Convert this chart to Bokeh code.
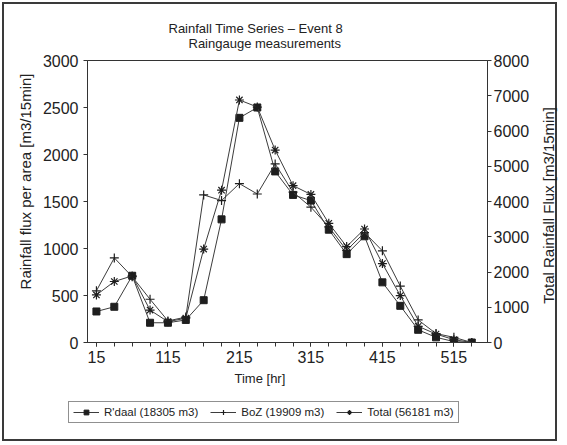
import math
from bokeh.plotting import figure
from bokeh.layouts import column, row
from bokeh.models import Range1d, LinearAxis, FixedTicker, Legend, LegendItem, Title, Label
from bokeh.embed import file_html
from bokeh.resources import INLINE

# ---- data ----
time_hr = [15, 40, 65, 90, 115, 140, 165, 190, 215, 240, 265, 290,
           315, 340, 365, 390, 415, 440, 465, 490, 515, 540]
rdaal = [330, 380, 710, 210, 210, 240, 450, 1310, 2390, 2500, 1820, 1570,
         1510, 1200, 940, 1130, 640, 390, 135, 55, 10, 0]
boz = [550, 900, 700, 460, 230, 270, 1570, 1510, 1690, 1580, 1900, 1600,
       1440, 1230, 980, 1170, 975, 600, 240, 95, 55, 0]
total = [1350, 1730, 1890, 920, 590, 690, 2650, 4320, 6880, 6680, 5460, 4450,
         4200, 3380, 2720, 3220, 2240, 1330, 460, 240, 80, 0]

x_major = [15, 115, 215, 315, 415, 515]
x_minor = [15, 40, 65, 90, 115, 140, 165, 190, 215, 240, 265, 290, 315, 340,
           365, 390, 415, 440, 465, 490, 515, 540]
left_ticks = [0, 500, 1000, 1500, 2000, 2500, 3000]
right_ticks = [0, 1000, 2000, 3000, 4000, 5000, 6000, 7000, 8000]

title1 = "Rainfall Time Series \u2013  Event 8"
title2 = "Raingauge measurements"
xlabel = "Time [hr]"
ylabel_left = "Rainfall flux per area [m3/15min]"
ylabel_right = "Total Rainfall Flux [m3/15min]"
names = ["R'daal (18305 m3)", "BoZ (19909 m3)", "Total (56181 m3)"]

FONT = "Liberation Sans"
TXT = "#222222"
LINE = "#3c3c3c"
MARK = "#1e1e1e"
PW, RW = 537, 22
W = PW + RW

# ---------------- main chart ----------------
p = figure(width=PW, height=400, output_backend="svg", toolbar_location=None,
           title=None, x_range=Range1d(2.5, 562), y_range=Range1d(0, 3000),
           min_border_left=87, min_border_right=50, min_border_top=60,
           min_border_bottom=58, x_axis_location=None, y_axis_location=None)
p.extra_y_ranges = {"total": Range1d(0, 8000)}
p.xgrid.visible = False
p.ygrid.visible = False
p.outline_line_color = "#333333"
p.outline_line_width = 1
p.background_fill_color = "white"
p.border_fill_color = None

def style_axis(ax):
    ax.axis_line_color = "#333333"
    ax.major_tick_line_color = "#333333"
    ax.minor_tick_line_color = "#333333"
    ax.major_tick_in = 0
    ax.major_tick_out = 4
    ax.minor_tick_in = 0
    ax.minor_tick_out = 4
    ax.major_label_text_font = FONT
    ax.major_label_text_font_size = "16px"
    ax.major_label_text_color = TXT

xaxis = LinearAxis(ticker=FixedTicker(ticks=x_major, minor_ticks=x_minor))
style_axis(xaxis)
xaxis.major_label_standoff = 4
p.add_layout(xaxis, "below")

yaxis = LinearAxis(ticker=FixedTicker(ticks=left_ticks))
style_axis(yaxis)
yaxis.minor_tick_out = 0
yaxis.major_label_standoff = 5
p.add_layout(yaxis, "left")

raxis = LinearAxis(y_range_name="total", ticker=FixedTicker(ticks=right_ticks))
style_axis(raxis)
raxis.minor_tick_out = 0
raxis.major_label_standoff = 2
p.add_layout(raxis, "right")

# titles (stacked above the frame: spacer, line 2, line 1)
top_gap = Title(text=" ", text_font_size="1px", standoff=5)
t2 = Title(text=title2, align="left", offset=101, text_font=FONT,
           text_font_size="13px", text_font_style="normal", text_color=TXT,
           standoff=0, vertical_align="top")
t1 = Title(text=title1, align="left", offset=81, text_font=FONT,
           text_font_size="13px", text_font_style="normal", text_color=TXT,
           standoff=0)
p.add_layout(top_gap, "above")
p.add_layout(t2, "above")
p.add_layout(t1, "above")

tx = Title(text=xlabel, align="left", offset=147, text_font=FONT,
           text_font_size="13px", text_font_style="normal", text_color=TXT, standoff=7)
p.add_layout(tx, "below")

ty = Title(text=ylabel_left, align="right", offset=13, text_font=FONT,
           text_font_size="15px", text_font_style="normal", text_color=TXT, standoff=11)
p.add_layout(ty, "left")

l1 = p.line(time_hr, rdaal, line_color=LINE, line_width=1)
s1 = p.scatter(time_hr, rdaal, marker="square", size=7, fill_color=MARK, line_color=MARK)
l2 = p.line(time_hr, boz, line_color=LINE, line_width=1)
s2 = p.scatter(time_hr, boz, marker="cross", size=9, line_color=MARK, line_width=1.2)
l3 = p.line(time_hr, total, line_color=LINE, line_width=1, y_range_name="total")
s3 = p.scatter(time_hr, total, marker="asterisk", size=9, line_color=MARK,
               line_width=1.2, y_range_name="total")

# ---------------- right-hand axis title strip (reads bottom to top) ----------------
r = figure(width=RW, height=400, output_backend="svg", toolbar_location=None,
           title=None, x_range=Range1d(0, 1), y_range=Range1d(0, 1),
           min_border=0, x_axis_location=None, y_axis_location=None)
r.xgrid.visible = False
r.ygrid.visible = False
r.outline_line_color = None
r.background_fill_color = None
r.border_fill_color = None
r.add_layout(Label(x=0.5, y=0.486, text=ylabel_right, angle=math.pi / 2,
                   text_align="center", text_baseline="middle", text_font=FONT,
                   text_font_size="15px", text_color=TXT))

# ---------------- legend strip (same series, out of view) ----------------
q = figure(width=W, height=43, output_backend="svg", toolbar_location=None,
           title=None, x_range=Range1d(-2, -1), y_range=Range1d(-2, -1),
           min_border=0, x_axis_location=None, y_axis_location=None)
q.xgrid.visible = False
q.ygrid.visible = False
q.outline_line_color = None
q.background_fill_color = None
q.border_fill_color = None
m1 = q.line(time_hr, rdaal, line_color=LINE, line_width=1)
n1 = q.scatter(time_hr, rdaal, marker="square", size=7, fill_color=MARK, line_color=MARK)
m2 = q.line(time_hr, boz, line_color=LINE, line_width=1)
n2 = q.scatter(time_hr, boz, marker="cross", size=9, line_color=MARK, line_width=1.2)
m3 = q.line(time_hr, total, line_color=LINE, line_width=1)
n3 = q.scatter(time_hr, total, marker="asterisk", size=9, line_color=MARK, line_width=1.2)

legend = Legend(items=[LegendItem(label=names[0], renderers=[m1, n1]),
                       LegendItem(label=names[1], renderers=[m2, n2]),
                       LegendItem(label=names[2], renderers=[m3, n3])],
                orientation="horizontal", location=(68, 20))
legend.label_text_font = FONT
legend.label_text_font_size = "11.5px"
legend.label_text_color = TXT
legend.border_line_color = "#222222"
legend.border_line_width = 1
legend.background_fill_color = "white"
legend.background_fill_alpha = 1
legend.glyph_width = 26
legend.glyph_height = 12
legend.label_standoff = 5
legend.spacing = 12
legend.padding = 4
legend.margin = 0
q.add_layout(legend)

page = column(row(p, r, spacing=0), row(q), spacing=0,
              styles={"outline": "2px solid #3a3a3a", "outline-offset": "-4px"})

open("out.html", "w").write(file_html(page, INLINE))
